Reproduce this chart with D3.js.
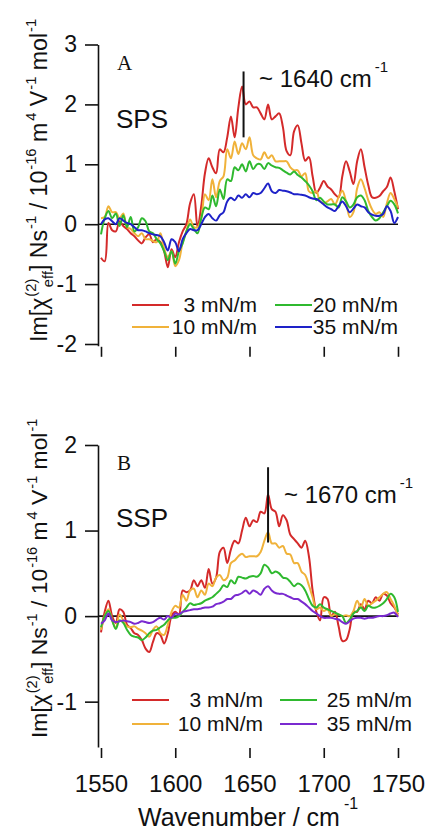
<!DOCTYPE html>
<html>
<head>
<meta charset="utf-8">
<script src="https://cdn.jsdelivr.net/npm/d3@7"></script>
<style>
  html, body { margin: 0; padding: 0; background: #fff; }
  svg { display: block; font-family: "Liberation Sans", Arial, sans-serif; }
</style>
</head>
<body>
<div id="chart"></div>
<script>
// wavenumber grid (cm-1) shared by every trace
const wavenumber = [
  1550, 1552.5, 1555, 1557.5, 1560, 1562.5, 1565, 1567.5, 1570, 1572.5,
  1575, 1577.5, 1580, 1582.5, 1585, 1587.5, 1590, 1592.5, 1595, 1597.5,
  1600, 1602.5, 1605, 1607.5, 1610, 1612.5, 1615, 1617.5, 1620, 1622.5,
  1625, 1627.5, 1630, 1632.5, 1635, 1637.5, 1640, 1642.5, 1645, 1647.5,
  1650, 1652.5, 1655, 1657.5, 1660, 1662.5, 1665, 1667.5, 1670, 1672.5,
  1675, 1677.5, 1680, 1682.5, 1685, 1687.5, 1690, 1692.5, 1695, 1697.5,
  1700, 1702.5, 1705, 1707.5, 1710, 1712.5, 1715, 1717.5, 1720, 1722.5,
  1725, 1727.5, 1730, 1732.5, 1735, 1737.5, 1740, 1742.5, 1745, 1747.5, 1750
];

// panel A, SPS
const sps3 = [
  -0.56, -0.62, 0.02, -0.1, -0.12, 0.05, -0.03, -0.08, -0.15, -0.2, -0.27, -0.32, -0.22,
  -0.17, -0.3, -0.25, -0.3, -0.45, -0.72, -0.42, -0.55, -0.3, -0.12, 0.0, 0.35, 0.5,
  -0.05, 0.3, 0.85, 1.1, 0.95, 0.85, 1.25, 1.2, 1.45, 1.8, 1.45, 1.95, 2.3, 2.0,
  2.05, 1.95, 1.95, 1.85, 1.75, 2.0, 1.75, 1.8, 1.85, 1.62, 1.22, 1.15, 1.55,
  1.65, 1.35, 1.06, 1.12, 0.8, 0.52, 0.61, 0.72, 0.63, 0.58, 0.5, 0.45, 0.8, 1.05,
  0.88, 0.67, 1.05, 1.25, 0.95, 0.65, 0.45, 0.44, 0.47, 0.55, 0.62, 0.78, 0.55, 0.25
];
const sps10 = [
  0.1, 0.12, 0.3, 0.2, 0.2, 0.1, 0.18, -0.05, -0.08, -0.15, -0.2, -0.15, -0.25,
  -0.25, -0.28, -0.3, -0.15, -0.4, -0.55, -0.45, -0.7, -0.6, -0.3, -0.12, 0.08, -0.05,
  -0.05, 0.1, 0.5, 0.4, 0.75, 0.45, 0.72, 0.8, 1.25, 1.1, 1.38, 1.17, 1.35, 1.25,
  1.45, 1.15, 1.1, 1.08, 1.2, 1.1, 1.15, 1.05, 1.05, 1.05, 1.05, 0.95, 0.9,
  0.9, 0.8, 0.85, 0.55, 0.52, 0.55, 0.38, 0.35, 0.38, 0.42, 0.33, 0.45, 0.56, 0.38,
  0.12, 0.2, 0.6, 0.75, 0.6, 0.4, 0.25, 0.17, 0.2, 0.12, 0.35, 0.52, 0.42, 0.28
];
const sps20 = [
  -0.17, 0.1, 0.22, 0.1, 0.18, -0.03, 0.15, -0.05, 0.12, -0.12, -0.05, 0.1, 0.05,
  -0.12, -0.15, -0.25, -0.32, -0.45, -0.6, -0.45, -0.66, -0.45, -0.32, -0.12, 0.0, -0.08,
  -0.15, 0.1, 0.28, 0.25, 0.48, 0.3, 0.58, 0.42, 0.75, 0.72, 0.95, 0.9, 1.0, 0.88,
  1.05, 0.92, 1.0, 1.0, 0.92, 1.02, 0.98, 0.95, 0.94, 0.9, 0.86, 0.83, 0.88,
  0.82, 0.78, 0.72, 0.65, 0.55, 0.4, 0.44, 0.38, 0.33, 0.33, 0.33, 0.28, 0.45, 0.38,
  0.28, 0.33, 0.45, 0.48, 0.4, 0.22, 0.12, 0.06, 0.1, 0.2, 0.3, 0.39, 0.33, 0.18
];
const sps35 = [
  0.0, 0.08, 0.1, 0.05, 0.0, 0.1, 0.06, 0.02, 0.0, -0.05, -0.1, -0.1, -0.12,
  -0.15, -0.17, -0.18, -0.2, -0.3, -0.44, -0.25, -0.3, -0.45, -0.25, -0.15, -0.08, -0.1,
  -0.1, 0.0, 0.12, 0.17, 0.1, 0.06, 0.15, 0.2, 0.38, 0.44, 0.4, 0.48, 0.44, 0.5,
  0.45, 0.52, 0.5, 0.52, 0.6, 0.68, 0.55, 0.52, 0.57, 0.56, 0.55, 0.53, 0.5,
  0.5, 0.49, 0.48, 0.45, 0.43, 0.42, 0.38, 0.33, 0.28, 0.25, 0.22, 0.3, 0.38, 0.3,
  0.2, 0.26, 0.33, 0.3, 0.28, 0.2, 0.16, 0.14, 0.14, 0.17, 0.3, 0.22, 0.02, 0.12
];

// panel B, SSP
const ssp3 = [
  -0.19, 0.05, 0.18, 0.0, -0.08, 0.08, 0.05, -0.1, -0.14, -0.2, -0.22, -0.28, -0.38,
  -0.42, -0.3, -0.2, -0.22, -0.32, -0.2, 0.0, 0.05, 0.02, 0.3, 0.28, 0.3, 0.42,
  0.35, 0.42, 0.33, 0.55, 0.38, 0.45, 0.75, 0.8, 0.62, 0.78, 0.88, 0.85, 1.0, 1.15,
  1.05, 1.12, 1.1, 1.22, 1.2, 1.42, 1.25, 1.22, 1.05, 1.18, 1.12, 0.95, 0.9,
  0.85, 0.8, 0.88, 0.7, 0.3, 0.05, -0.05, 0.22, 0.2, 0.0, 0.05, -0.12, -0.29, -0.28,
  -0.15, 0.05, 0.05, 0.14, 0.08, 0.18, 0.15, 0.22, 0.18, 0.26, 0.24, 0.15, 0.1, 0.02
];
const ssp10 = [
  -0.16, 0.0, 0.08, -0.05, -0.14, 0.02, -0.05, -0.12, -0.13, -0.12, -0.15, -0.17, -0.2,
  -0.24, -0.16, -0.12, -0.2, -0.22, -0.1, 0.05, 0.12, 0.1, 0.25, 0.18, 0.3, 0.32,
  0.22, 0.3, 0.25, 0.38, 0.35, 0.45, 0.48, 0.42, 0.45, 0.62, 0.65, 0.7, 0.73, 0.69,
  0.7, 0.7, 0.7, 0.75, 0.88, 0.98, 0.85, 0.85, 0.8, 0.82, 0.73, 0.72, 0.62,
  0.62, 0.52, 0.48, 0.36, 0.22, 0.08, 0.1, 0.06, 0.08, 0.0, 0.02, 0.02, 0.0, 0.01,
  0.0, 0.06, 0.18, 0.1, 0.2, 0.12, 0.15, 0.18, 0.22, 0.26, 0.28, 0.2, 0.12, 0.0
];
const ssp25 = [
  -0.13, 0.0, 0.06, -0.05, -0.15, -0.05, -0.08, -0.16, -0.22, -0.24, -0.25, -0.28, -0.25,
  -0.2, -0.17, -0.16, -0.13, -0.1, -0.05, -0.02, -0.02, 0.0, 0.05, 0.1, 0.15, 0.13,
  0.14, 0.15, 0.18, 0.2, 0.22, 0.26, 0.3, 0.36, 0.34, 0.42, 0.38, 0.46, 0.45, 0.44,
  0.46, 0.47, 0.46, 0.5, 0.6, 0.57, 0.5, 0.52, 0.5, 0.45, 0.44, 0.4, 0.35,
  0.38, 0.36, 0.3, 0.2, 0.12, 0.1, 0.14, 0.1, 0.08, 0.06, 0.04, 0.02, 0.0, -0.08,
  -0.04, 0.03, 0.06, 0.1, 0.06, 0.12, 0.1, 0.1, 0.12, 0.15, 0.2, 0.26, 0.22, 0.05
];
const ssp35 = [
  -0.09, -0.05, 0.03, -0.05, -0.07, -0.06, -0.05, -0.06, -0.07, -0.09, -0.08, -0.06, -0.07,
  -0.08, -0.07, -0.04, -0.02, -0.04, 0.0, -0.02, 0.03, 0.02, 0.05, 0.06, 0.07, 0.08,
  0.08, 0.09, 0.1, 0.1, 0.11, 0.14, 0.15, 0.17, 0.2, 0.2, 0.24, 0.25, 0.27, 0.3,
  0.26, 0.3, 0.28, 0.25, 0.32, 0.35, 0.3, 0.27, 0.26, 0.26, 0.24, 0.22, 0.2,
  0.2, 0.17, 0.14, 0.1, 0.06, 0.03, 0.0, -0.02, -0.02, -0.02, -0.03, -0.04, -0.07, -0.09,
  -0.06, -0.03, -0.02, -0.02, -0.03, -0.02, -0.02, -0.01, 0.0, 0.0, 0.01, 0.03, 0.04, -0.01
];

const labelsA = ['3 mN/m', '10 mN/m', '20 mN/m', '35 mN/m'];
const labelsB = ['3 mN/m', '10 mN/m', '25 mN/m', '35 mN/m'];
const xTicks = [1550, 1600, 1650, 1700, 1750];
const yTicksA = [-2, -1, 0, 1, 2, 3];
const yTicksB = [-1, 0, 1, 2];

const width = 429, height = 831;
const svg = d3.select('#chart').append('svg')
              .attr('width', width)
              .attr('height', height);

const x = d3.scaleLinear().domain([1550, 1750]).range([101, 398]);
const axisX = 98;

const line = y => d3.line()
                    .x((d, i) => x(wavenumber[i]))
                    .y(d => y(d))
                    .curve(d3.curveCatmullRom.alpha(0.5));

// rotated y title; bottom end at y0, top end at y1
function yTitle(g, cx, y0, y1) {
    const t = g.append('text')
               .attr('transform', `translate(${cx},${y0}) rotate(-90)`)
               .attr('fill', '#111');
    const build = k => {
        t.selectAll('tspan').remove();
        t.attr('font-size', 22 * k);
        const s = 14 * k, up = 10 * k;
        const add = (txt, size, dx, dy) =>
            t.append('tspan').attr('font-size', size).attr('dx', dx).attr('dy', dy).text(txt);
        // every dy is relative, so each sup is undone on the next piece
        add('Im[χ', null, 0, 0);
        add('(2)', s, 1, -up);
        add('eff', s, -8 * k, up * 1.6);
        add('] Ns', null, 0, -up * 0.6);
        add('-1', s, 1, -up);
        add(' / 10', null, 0, up);
        add('-16', s, 1, -up);
        add(' m', null, 0, up);
        add('4', s, 2, -up);
        add(' V', null, 0, up);
        add('-1', s, 1, -up);
        add(' mol', null, 0, up);
        add('-1', s, 1, -up);
    };
    build(1);
    const len = t.node().getBBox().width;
    build((y0 - y1) / len);
}

function panel(opt) {
    const g = svg.append('g');
    const y = d3.scaleLinear().domain(opt.ydomain).range(opt.yrange);

    // y axis
    g.append('g')
     .attr('transform', `translate(${axisX},0)`)
     .call(d3.axisLeft(y).tickValues(opt.yticks).tickSize(13).tickSizeOuter(0)
             .tickPadding(8).tickFormat(d => String(d)))
     .call(a => a.selectAll('text').attr('font-size', 23).attr('fill', '#111')
                 .attr('font-family', '"Liberation Sans", Arial, sans-serif'))
     .call(a => a.selectAll('line,path').attr('stroke', '#111').attr('stroke-width', 1.6));

    // x ticks, no axis line
    const xa = g.append('g')
                .attr('transform', `translate(0,${opt.yrange[0] + 1})`)
                .call(d3.axisBottom(x).tickValues(xTicks).tickSize(10).tickPadding(17)
                        .tickFormat(opt.xlabels ? d => String(d) : ''));
    xa.select('.domain').remove();
    xa.selectAll('line').attr('stroke', '#111').attr('stroke-width', 1.6);
    xa.selectAll('text').attr('font-size', 24).attr('fill', '#111')
      .attr('font-family', '"Liberation Sans", Arial, sans-serif');

    // zero line
    g.append('line')
     .attr('x1', axisX).attr('x2', x(1750))
     .attr('y1', y(0)).attr('y2', y(0))
     .attr('stroke', '#111').attr('stroke-width', 1.6);

    // traces
    g.selectAll('path.trace')
     .data(opt.series)
     .enter().append('path')
     .attr('class', 'trace')
     .attr('fill', 'none')
     .attr('stroke', (d, i) => opt.colors[i])
     .attr('stroke-width', 2)
     .attr('d', d => line(y)(d));

    // peak marker
    g.append('line')
     .attr('x1', x(opt.mark.wn)).attr('x2', x(opt.mark.wn))
     .attr('y1', y(opt.mark.y0)).attr('y2', y(opt.mark.y1))
     .attr('stroke', '#111').attr('stroke-width', 2);

    const ann = g.append('text')
                 .attr('x', opt.mark.tx).attr('y', opt.mark.ty)
                 .attr('font-size', 24).attr('fill', '#111');
    ann.append('tspan').text(opt.mark.text);
    ann.append('tspan').attr('font-size', 15).attr('dx', 3).attr('dy', -15).text('-1');

    g.append('text')
     .attr('x', 117).attr('y', opt.letterY)
     .attr('font-family', '"Liberation Serif", "Times New Roman", serif')
     .attr('font-size', 21).attr('fill', '#111')
     .text(opt.letter);

    g.append('text')
     .attr('x', 116).attr('y', opt.nameY)
     .attr('font-size', 26).attr('fill', '#111')
     .text(opt.name);

    // legend: two columns, two rows
    const lg = g.selectAll('g.leg')
                .data(opt.labels)
                .enter().append('g')
                .attr('class', 'leg');
    lg.append('line')
      .attr('x1', (d, i) => opt.legend.lx[Math.floor(i / 2)])
      .attr('x2', (d, i) => opt.legend.lx[Math.floor(i / 2)] + 37)
      .attr('y1', (d, i) => opt.legend.ly[i % 2])
      .attr('y2', (d, i) => opt.legend.ly[i % 2])
      .attr('stroke', (d, i) => opt.colors[i])
      .attr('stroke-width', 2);
    lg.append('text')
      .attr('x', (d, i) => opt.legend.tx[Math.floor(i / 2)])
      .attr('y', (d, i) => opt.legend.ly[i % 2] + 7)
      .attr('text-anchor', 'end')
      .attr('font-size', opt.legend.size)
      .attr('fill', '#111')
      .text(d => d);

    yTitle(g, 47, opt.title[0], opt.title[1]);
}

panel({
    ydomain: [-2.03, 3], yrange: [345.8, 44.5], yticks: yTicksA, xlabels: false,
    series: [sps3, sps10, sps20, sps35],
    colors: ['#d42a2a', '#f0b23a', '#2fb92f', '#1e22c8'],
    labels: labelsA,
    legend: { lx: [132, 275], tx: [257, 398], ly: [305, 327], size: 21 },
    mark: { wn: 1646, y0: 2.55, y1: 1.45, tx: 259, ty: 87, text: '~ 1640 cm' },
    letter: 'A', letterY: 70, name: 'SPS', nameY: 128, title: [342, 18]
});

panel({
    ydomain: [-1.53, 2], yrange: [747, 445], yticks: yTicksB, xlabels: true,
    series: [ssp3, ssp10, ssp25, ssp35],
    colors: ['#d42a2a', '#f0b23a', '#2fb92f', '#7a2ad0'],
    labels: labelsB,
    legend: { lx: [132, 280], tx: [263, 412], ly: [700, 724], size: 21 },
    mark: { wn: 1662.5, y0: 1.74, y1: 0.86, tx: 284, ty: 503, text: '~ 1670 cm' },
    letter: 'B', letterY: 470, name: 'SSP', nameY: 527, title: [738, 418]
});

// x axis title
const xt = svg.append('text')
              .attr('x', 138).attr('y', 826)
              .attr('font-size', 25).attr('fill', '#111');
xt.append('tspan').text('Wavenumber / cm');
xt.append('tspan').attr('font-size', 16).attr('dx', 4).attr('dy', -17).text('-1');
</script>
</body>
</html>
